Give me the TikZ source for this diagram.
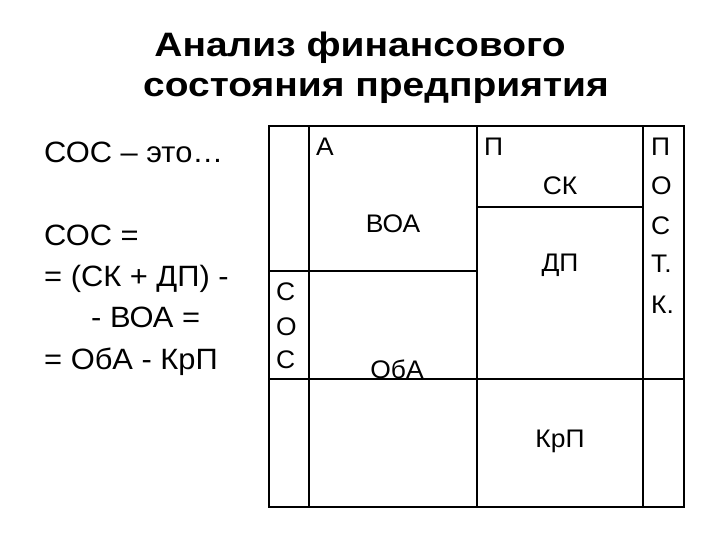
\documentclass[tikz,border=0pt]{standalone}
\usepackage{graphicx}
\usepackage{fontspec}
\setmainfont{Liberation Sans}
\newcommand\mywideA[1]{\scalebox{1.15}[1]{#1}}
\newcommand\mywideB[1]{\scalebox{1.05}[1]{#1}}
\newcommand\mywideC[1]{\scalebox{1.04}[1]{#1}}
\begin{document}
\begin{tikzpicture}[x=1bp,y=-1bp,
  thin line/.style={line width=1.3bp},
  thick line/.style={line width=2.6bp},
  ttl/.style={font=\fontsize{34}{40}\selectfont\bfseries, anchor=base, inner sep=0},
  lt/.style={font=\fontsize{29.5}{34}\selectfont, anchor=base west, inner sep=0},
  tt/.style={font=\fontsize{25.5}{30}\selectfont, anchor=base, inner sep=0},
  tl/.style={font=\fontsize{25.5}{30}\selectfont, anchor=base west, inner sep=0}]
\useasboundingbox (0,0) rectangle (720,540);
% title
\node[ttl] (t1) at (360,57) {\mywideA{Анализ финансового}};
\node[ttl] (t2) at (376,97) {\mywideA{состояния предприятия}};
% left text
\node[lt] (l1) at (44,163) {\mywideB{СОС – это…}};
\node[lt] (l2) at (44,246) {\mywideB{СОС =}};
\node[lt] (l3) at (44,287) {\mywideB{= (СК + ДП) -}};
\node[lt] (l4) at (91,327) {\mywideB{- ВОА =}};
\node[lt] (l5) at (44,369) {\mywideB{= ОбА - КрП}};
% table inner lines
\draw[thin line] (309,126) -- (309,507);
\draw[thin line] (477,126) -- (477,507);
\draw[thin line] (643,126) -- (643,507);
\draw[thin line] (269,271) -- (477,271);
\draw[thin line] (477,207) -- (643,207);
\draw[thin line] (269,379) -- (684,379);
% table border
\draw[thick line] (269,126) rectangle (684,507);
% table text
\node[tl] (a) at (316,156) {\mywideC{А}};
\node[tl] (p) at (484,156) {\mywideC{П}};
\node[tt] (sk) at (560,195) {\mywideC{СК}};
\node[tt] (voa) at (393,233) {\mywideC{ВОА}};
\node[tt] (dp) at (560,272) {\mywideC{ДП}};
\node[tt] (oba) at (397,378) {\mywideC{ОбА}};
\node[tt] (krp) at (560,447) {\mywideC{КрП}};
\node[tl] (c1) at (651,156) {\mywideC{П}};
\node[tl] (c2) at (651,195) {\mywideC{О}};
\node[tl] (c3) at (651,235) {\mywideC{С}};
\node[tl] (c4) at (651,273) {\mywideC{Т.}};
\node[tl] (c5) at (651,313) {\mywideC{К.}};
\node[tl] (s1) at (276,300) {\mywideC{С}};
\node[tl] (s2) at (276,335) {\mywideC{О}};
\node[tl] (s3) at (276,368) {\mywideC{С}};
\end{tikzpicture}
\end{document}
